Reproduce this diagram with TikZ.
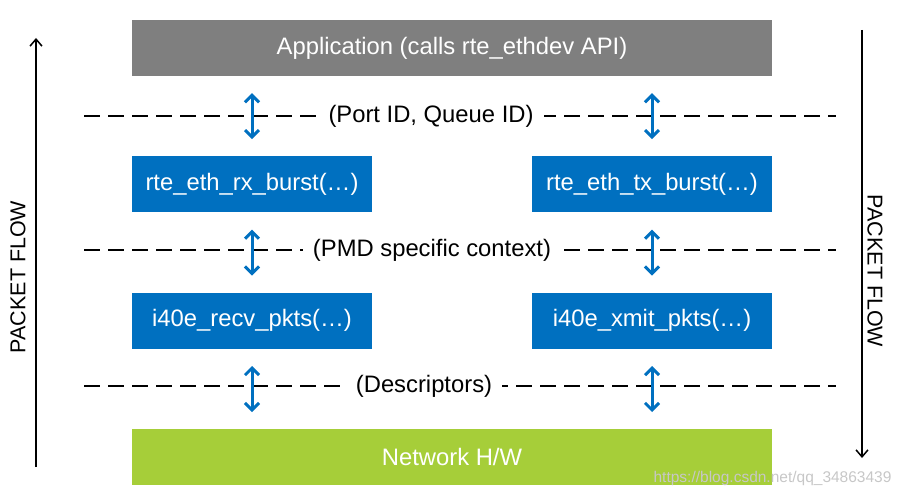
\documentclass[tikz,border=0pt]{standalone}
\usepackage{fontspec}
\setmainfont{Liberation Sans}
\usetikzlibrary{arrows.meta, positioning}
\definecolor{appgray}{RGB}{127,127,127}
\definecolor{pmdblue}{RGB}{0,112,192}
\definecolor{hwgreen}{RGB}{166,206,57}
\newcommand{\boxfont}{\fontsize{23.8}{28}\selectfont}
\newcommand{\flowfont}{\fontsize{21.5}{26}\selectfont}
\tikzstyle{layer} = [rectangle, fill=appgray, text=white, text centered, minimum width=640pt, minimum height=56pt, inner sep=0pt, font=\boxfont]
\tikzstyle{func} = [rectangle, fill=pmdblue, text=white, text centered, minimum width=240pt, minimum height=56pt, inner sep=0pt, font=\boxfont]
\tikzstyle{sep} = [line width=2pt, dash pattern=on 16pt off 8pt]
\tikzstyle{context} = [fill=white, inner xsep=10pt, inner ysep=2pt, font=\boxfont]
\tikzstyle{xfer} = [line width=3pt, draw=pmdblue, {Straight Barb[length=7pt,width=14pt]}-{Straight Barb[length=7pt,width=14pt]}, shorten <=17pt, shorten >=17pt]
\tikzstyle{flow} = [line width=1.5pt, -{Straight Barb[length=7pt,width=12pt]}]

\begin{document}
\begin{tikzpicture}[x=1pt, y=-1pt]
\useasboundingbox (0,0) rectangle (902,500);
% Nodes
\node (app) [layer] at (452,48) {Application (calls rte\_ethdev API)};
\node (rx) [func, below right=80pt and 0pt of app.south west] {rte\_eth\_rx\_burst(…)};
\node (tx) [func, below left=80pt and 0pt of app.south east] {rte\_eth\_tx\_burst(…)};
\node (recv) [func, below=80pt of rx] {i40e\_recv\_pkts(…)};
\node (xmit) [func, below=80pt of tx] {i40e\_xmit\_pkts(…)};
\node (hw) [layer, fill=hwgreen, below right=80pt and 0pt of recv.south west] {Network H/W};

% Separators
\draw [sep] (84,116) -- (836,116);
\draw [sep] (84,250) -- (836,250);
\draw [sep] (84,386) -- (836,386);
\node (portq) [context] at (431,116) {(Port ID, Queue ID)};
\node (pmdctx) [context] at (432,250) {(PMD specific context)};
\node (desc) [context] at (424,386) {(Descriptors)};

% Connections
\draw [xfer] (rx.north) -- (rx.north |- app.south);
\draw [xfer] (tx.north) -- (tx.north |- app.south);
\draw [xfer] (rx) -- (recv);
\draw [xfer] (tx) -- (xmit);
\draw [xfer] (recv.south) -- (recv.south |- hw.north);
\draw [xfer] (xmit.south) -- (xmit.south |- hw.north);

% Packet flow
\coordinate (upstart) at (36,467);
\coordinate (upend) at (36,38);
\coordinate (downstart) at (862,30);
\coordinate (downend) at (862,458);
\draw [flow] (upstart) -- (upend);
\draw [flow] (downstart) -- (downend);
\node (upflow) [rotate=90, font=\flowfont] at (18,277) {PACKET FLOW};
\node (downflow) [rotate=-90, font=\flowfont] at (875,271) {PACKET FLOW};

\node (mark) [anchor=east, text=black!22, font=\fontsize{15.5}{18}\selectfont] at (895,478) {https://blog.csdn.net/qq\_34863439};
\end{tikzpicture}
\end{document}
